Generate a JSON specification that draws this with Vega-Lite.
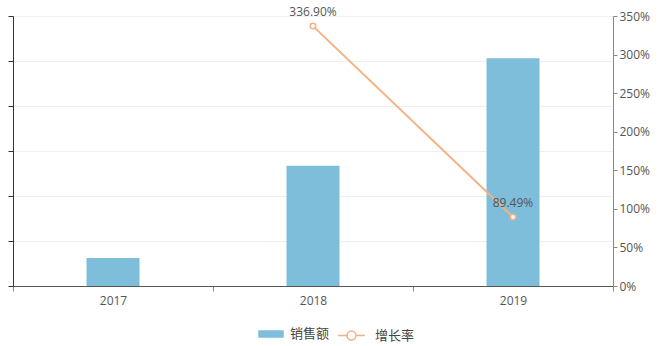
{
  "$schema": "https://vega.github.io/schema/vega-lite/v6.json",
  "autosize": "none",
  "width": 600,
  "height": 270,
  "padding": {"left": 13, "top": 16, "right": 53, "bottom": 60},
  "background": "white",
  "config": {
    "font": "Open Sans",
    "view": {"stroke": null},
    "axis": {"labelFont": "Open Sans", "labelColor": "#555555", "labelFontSize": 12}
  },
  "data": {
    "values": [
      {"year": "2017", "sales": 0.62, "growth": null},
      {"year": "2018", "sales": 2.67, "growth": 336.90},
      {"year": "2019", "sales": 5.06, "growth": 89.49}
    ]
  },
  "encoding": {
    "x": {
      "field": "year",
      "type": "nominal",
      "scale": {"paddingInner": 0, "paddingOuter": 0},
      "axis": {
        "title": null,
        "labelAngle": 0,
        "tickBand": "extent",
        "domainColor": "#555555",
        "tickColor": "#888888",
        "tickSize": 5,
        "labelPadding": 4
      }
    }
  },
  "layer": [
    {
      "mark": {"type": "bar", "width": {"band": 0.265}, "color": "#7ebedb"},
      "encoding": {
        "y": {
          "field": "sales",
          "type": "quantitative",
          "scale": {"domain": [0, 6], "nice": false},
          "axis": {
            "title": null,
            "labels": false,
            "values": [0, 1, 2, 3, 4, 5, 6],
            "labelOverlap": false,
            "domainColor": "#333333",
            "tickColor": "#333333",
            "tickSize": 5,
            "grid": true,
            "gridColor": "#f0f0f0"
          }
        },
        "fill": {
          "datum": "销售额",
          "type": "nominal",
          "scale": {"domain": ["销售额"], "range": ["#7ebedb"]},
          "legend": {
            "title": null,
            "orient": "none",
            "legendX": 245,
            "legendY": 305,
            "symbolType": "M-1,-0.27Q-1,-0.3 -0.95,-0.3H0.95Q1,-0.3 1,-0.27V0.27Q1,0.3 0.95,0.3H-0.95Q-1,0.3 -1,0.27Z",
            "symbolSize": 650,
            "symbolStrokeWidth": 0,
            "labelFontSize": 13,
            "labelColor": "#444444",
            "labelFont": "Noto Sans CJK SC",
            "labelOffset": 6
          }
        }
      }
    },
    {
      "mark": {"type": "line", "color": "#f4b183", "strokeWidth": 2},
      "encoding": {
        "y": {
          "field": "growth",
          "type": "quantitative",
          "scale": {"domain": [0, 350], "nice": false},
          "axis": {
            "orient": "right",
            "title": null,
            "values": [0, 50, 100, 150, 200, 250, 300, 350],
            "labelExpr": "datum.value + '%'",
            "domainColor": "#888888",
            "tickColor": "#888888",
            "tickSize": 4,
            "labelPadding": 2,
            "grid": false
          }
        },
        "stroke": {
          "datum": "增长率",
          "type": "nominal",
          "scale": {"domain": ["增长率"], "range": ["#f4b183"]},
          "legend": {
            "title": null,
            "orient": "none",
            "legendX": 324,
            "legendY": 305,
            "symbolType": "M-1,0H-0.33M0.33,0H1M-0.33,0A0.33,0.33 0 1,1 0.33,0A0.33,0.33 0 1,1 -0.33,0Z",
            "symbolSize": 730,
            "symbolStrokeWidth": 1.5,
            "symbolFillColor": "white",
            "labelFontSize": 13,
            "labelColor": "#444444",
            "labelFont": "Noto Sans CJK SC",
            "labelOffset": 9
          }
        }
      }
    },
    {
      "mark": {"type": "point", "shape": "circle", "filled": true, "fill": "white", "stroke": "#f4b183", "strokeWidth": 1.5, "size": 30, "opacity": 1},
      "encoding": {
        "y": {"field": "growth", "type": "quantitative", "scale": {"domain": [0, 350], "nice": false}, "axis": null}
      }
    },
    {
      "transform": [
        {"filter": "datum.growth != null"},
        {"calculate": "format(datum.growth, '.2f') + '%'", "as": "label"}
      ],
      "mark": {"type": "text", "dy": -14, "fontSize": 12, "color": "#555555", "font": "Open Sans"},
      "encoding": {
        "y": {"field": "growth", "type": "quantitative", "scale": {"domain": [0, 350], "nice": false}, "axis": null},
        "text": {"field": "label", "type": "nominal"}
      }
    }
  ],
  "resolve": {"scale": {"y": "independent", "fill": "independent", "stroke": "independent"}}
}
